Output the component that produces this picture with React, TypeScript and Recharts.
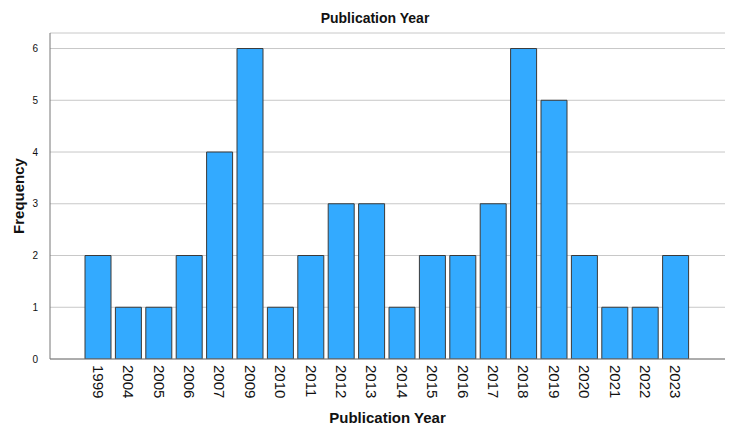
import React from "react";
import { BarChart, Bar, XAxis, YAxis, CartesianGrid, Label } from "recharts";

const years = ["1999", "2004", "2005", "2006", "2007", "2009", "2010", "2011", "2012", "2013", "2014", "2015", "2016", "2017", "2018", "2019", "2020", "2021", "2022", "2023"];
const frequencies = [2, 1, 1, 2, 4, 6, 1, 2, 3, 3, 1, 2, 2, 3, 6, 5, 2, 1, 1, 2];
const yTicks = [0, 1, 2, 3, 4, 5, 6];

const data = years.map((y, i) => ({ year: y, freq: frequencies[i] }));

const FONT = "'Liberation Sans', Arial, Helvetica, sans-serif";

const XTick = (props: any) => {
  const { x, y, payload } = props;
  return (
    <text
      transform={`translate(${x},${y - 2}) rotate(90)`}
      textAnchor="start"
      dominantBaseline="central"
      fontSize={15}
      fontFamily={FONT}
      fill="#111"
    >
      {payload.value}
    </text>
  );
};

export default function App() {
  return (
    <div style={{ position: "absolute", left: 0, top: 0, width: 750, height: 439, background: "#fff" }}>
      <div
        style={{
          position: "absolute",
          left: 0,
          top: 10,
          width: 750,
          textAlign: "center",
          fontFamily: FONT,
          fontWeight: "bold",
          fontSize: 14,
          color: "#111",
        }}
      >
        Publication Year
      </div>
      <BarChart
        width={750}
        height={439}
        data={data}
        margin={{ top: 33, right: 25, left: 0, bottom: 0 }}
        barCategoryGap={2}
      >
        <CartesianGrid vertical={false} stroke="#c8c8c8" strokeWidth={1} />
        <XAxis
          dataKey="year"
          height={80}
          interval={0}
          tick={<XTick />}
          tickLine={false}
          axisLine={{ stroke: "#777", strokeWidth: 1 }}
          padding={{ left: 33, right: 34 }}
        >
          <Label
            value="Publication Year"
            position="insideBottom"
            offset={16}
            style={{ fontFamily: FONT, fontWeight: "bold", fontSize: 15, fill: "#111" }}
          />
        </XAxis>
        <YAxis
          width={50}
          domain={[0, 6.3]}
          ticks={yTicks}
          allowDataOverflow
          tickLine={false}
          tickMargin={6}
          axisLine={{ stroke: "#777", strokeWidth: 1 }}
          tick={{ fontFamily: FONT, fontSize: 10, fill: "#111" }}
        >
          <Label
            value="Frequency"
            angle={-90}
            position="insideLeft"
            offset={19}
            style={{ fontFamily: FONT, fontWeight: "bold", fontSize: 15, fill: "#111", textAnchor: "middle" }}
          />
        </YAxis>
        <Bar dataKey="freq" fill="#33aaff" stroke="#3a3a3a" strokeWidth={1} isAnimationActive={false} />
      </BarChart>
    </div>
  );
}
